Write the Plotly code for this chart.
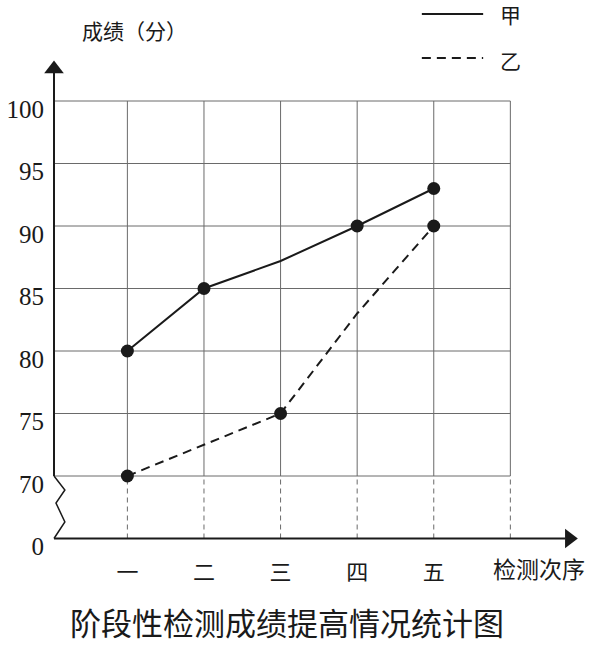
import plotly.graph_objects as go

# ---------------- data ----------------
categories = ["一", "二", "三", "四", "五"]
jia = [80, 85, 87.2, 90, 93]
yi = [70, 72.5, 75, 83, 90]
jia_marked = [True, True, False, True, True]
yi_marked = [True, False, True, False, True]
y_tick_labels = ["0", "70", "75", "80", "85", "90", "95", "100"]
y_grid_values = [70, 75, 80, 85, 90, 95, 100]
series_names = ["甲", "乙"]
x_title = "检测次序"
y_title = "成绩（分）"
chart_title = "阶段性检测成绩提高情况统计图"

# ---------------- geometry helpers ----------------
X0 = 0.042          # x position of the vertical axis
Y_BREAK = 65        # transformed position representing 0 (axis break)
x_idx = list(range(1, len(categories) + 1))
x_last = len(categories) + 1   # extra column for 检测次序
y_tickvals = [Y_BREAK] + y_grid_values

W, H = 591, 645
ML, MR, MT, MB = 48, 6, 56, 94
PX_X = 77.46
PX_Y = 12.5
x_range = [X0, X0 + (W - ML - MR) / PX_X]
y_lo = 64
y_range = [y_lo, y_lo + (H - MT - MB) / PX_Y]
PW = W - ML - MR
PH = H - MT - MB

INK = "#1a1a1a"
GRID = "#6a6a6a"
SERIF = "Liberation Serif"
CJK = "Noto Sans CJK SC"

fig = go.Figure()

shapes = []
# horizontal grid lines
for gv in y_grid_values:
    shapes.append(dict(type="line", xref="x", yref="y", x0=X0, x1=x_last, y0=gv, y1=gv,
                       line=dict(color=GRID, width=1), layer="below"))
# vertical grid lines (solid above break, dashed below)
for xv in x_idx + [x_last]:
    shapes.append(dict(type="line", xref="x", yref="y", x0=xv, x1=xv, y0=y_grid_values[0], y1=y_grid_values[-1],
                       line=dict(color=GRID, width=1), layer="below"))
    shapes.append(dict(type="line", xref="x", yref="y", x0=xv, x1=xv, y0=Y_BREAK, y1=y_grid_values[0],
                       line=dict(color=GRID, width=1, dash="5px,4px"), layer="below"))
# y axis line (above break)
shapes.append(dict(type="line", xref="paper", yref="y", x0=0, x1=0, y0=y_grid_values[0], y1=102.4,
                   line=dict(color=INK, width=2)))
# zigzag break
zx = 11 / PW
zx2 = 2 / PW
zig_y = [70, 70 - 14 / PX_Y, 70 - 27 / PX_Y, 70 - 46 / PX_Y, Y_BREAK]
zig_x = [0, zx, zx2, zx, 0]
path = "M " + " L ".join(f"{a},{b}" for a, b in zip(zig_x, zig_y))
shapes.append(dict(type="path", xref="paper", yref="y", path=path, line=dict(color=INK, width=1.5)))
# x axis line
shapes.append(dict(type="line", xref="x", yref="y", x0=X0, x1=6.72, y0=Y_BREAK, y1=Y_BREAK,
                   line=dict(color=INK, width=2)))
# legend lines
for ypix, dash in [(14, None), (58, "9px,6px")]:
    shapes.append(dict(type="line", xref="paper", yref="paper",
                       x0=(420 - ML) / PW, x1=(482 - ML) / PW,
                       y0=(H - MB - ypix) / PH, y1=(H - MB - ypix) / PH,
                       line=dict(color=INK, width=2, dash=dash)))

# series lines
fig.add_trace(go.Scatter(x=x_idx, y=jia, mode="lines", line=dict(color=INK, width=2),
                         showlegend=False, hoverinfo="skip"))
fig.add_trace(go.Scatter(x=x_idx, y=yi, mode="lines", line=dict(color=INK, width=2, dash="9px,6px"),
                         showlegend=False, hoverinfo="skip"))
# series markers
for vals, marked, name in [(jia, jia_marked, series_names[0]), (yi, yi_marked, series_names[1])]:
    fig.add_trace(go.Scatter(x=[x for x, m in zip(x_idx, marked) if m],
                             y=[v for v, m in zip(vals, marked) if m],
                             mode="markers", marker=dict(color=INK, size=13),
                             showlegend=False, name=name, cliponaxis=False))
# axis arrows
fig.add_trace(go.Scatter(x=[X0], y=[102.55], mode="markers",
                         marker=dict(symbol="triangle-up", size=17, color=INK),
                         cliponaxis=False, showlegend=False, hoverinfo="skip"))
fig.add_trace(go.Scatter(x=[6.77], y=[Y_BREAK], mode="markers",
                         marker=dict(symbol="triangle-right", size=17, color=INK),
                         cliponaxis=False, showlegend=False, hoverinfo="skip"))

annotations = [
    dict(text=y_title, xref="paper", yref="paper", x=(129 - ML) / PW,
         y=(H - MB - 30) / PH, showarrow=False, font=dict(family=CJK, size=21, color=INK),
         xanchor="center", yanchor="middle"),
    dict(text=x_title, xref="paper", yref="paper", x=(538 - ML) / PW,
         y=(H - MB - 568) / PH, showarrow=False, font=dict(family=CJK, size=23, color=INK),
         xanchor="center", yanchor="middle"),
    dict(text=series_names[0], xref="paper", yref="paper", x=(497 - ML) / PW,
         y=(H - MB - 14) / PH, showarrow=False, font=dict(family=CJK, size=21, color=INK),
         xanchor="left", yanchor="middle"),
    dict(text=series_names[1], xref="paper", yref="paper", x=(497 - ML) / PW,
         y=(H - MB - 60) / PH, showarrow=False, font=dict(family=CJK, size=21, color=INK),
         xanchor="left", yanchor="middle"),
]

fig.update_layout(
    width=W, height=H,
    margin=dict(l=ML, r=MR, t=MT, b=MB, pad=0),
    paper_bgcolor="white", plot_bgcolor="white",
    shapes=shapes, annotations=annotations,
    title=dict(text=chart_title, x=287 / W, y=1 - 624 / H, xref="container", yref="container",
               xanchor="center", yanchor="middle", font=dict(family=CJK, size=31, color=INK)),
    xaxis=dict(range=x_range, showgrid=False, zeroline=False, showline=False,
               tickmode="array", tickvals=x_idx, ticktext=categories, ticks="",
               ticklabelstandoff=6, tickfont=dict(family=CJK, size=22, color=INK)),
    yaxis=dict(range=y_range, showgrid=False, zeroline=False, showline=False,
               tickmode="array", tickvals=y_tickvals, ticktext=y_tick_labels, ticks="",
               ticklabelstandoff=9, ticklabelshift=8, tickfont=dict(family=SERIF, size=25, color=INK)),
)

fig.write_html("out.html")
